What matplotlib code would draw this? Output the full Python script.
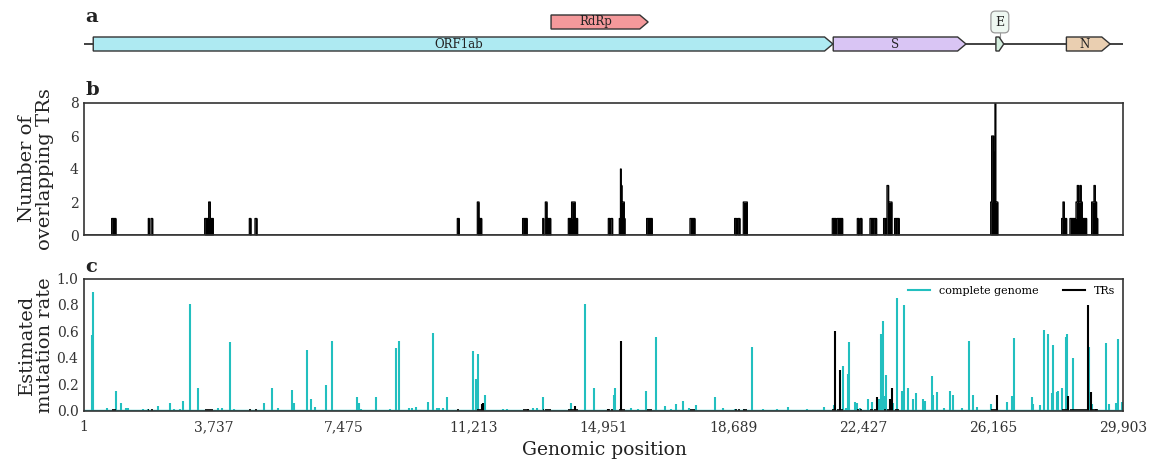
import numpy as np
import matplotlib.pyplot as plt
from matplotlib.patches import Polygon
from matplotlib.lines import Line2D

plt.rcParams['font.family'] = 'DejaVu Serif'

GENOME_LEN = 29903
DARK = '#333333'
CYAN = '#22bfbf'

# genes for panel a
gene_names = ['ORF1ab', 'RdRp', 'S', 'E', 'N']
gene_starts = [266, 13442, 21563, 26245, 28274]
gene_ends = [21555, 16236, 25384, 26472, 29533]
gene_colors = ['#aeeaf2', '#f4999b', '#d9c5f4', '#d5efdf', '#eacfb1']
gene_track = [0, 1, 0, 0, 0]

# panel b: number of overlapping TRs (piecewise constant)
tr_start = [796, 1851, 1928, 3473, 3588, 3636, 4758, 4921, 10744, 11320, 11369,
            12623, 13202, 13277, 13326, 13939, 14033, 14137, 15090, 15166,
            15407, 15440, 15460, 15484, 15550, 16193, 17440, 18725, 18811, 18975,
            21536, 21671, 22256, 22342, 22620, 22726, 23013, 23110, 23157, 23329,
            23395, 26095, 26122, 26180, 26218, 26240, 28137, 28175, 28213, 28376,
            28550, 28587, 28624, 28664, 28701, 28731, 29000, 29067, 29106, 29143]
tr_end = [920, 1880, 1977, 3588, 3636, 3722, 4806, 4979, 10801, 11369, 11446,
          12756, 13231, 13326, 13432, 14033, 14137, 14206, 15137, 15214,
          15440, 15460, 15484, 15550, 15571, 16355, 17584, 18782, 18879, 19090,
          21643, 21834, 22305, 22388, 22716, 22812, 23079, 23157, 23253, 23387,
          23463, 26122, 26180, 26218, 26240, 26300, 28175, 28213, 28281, 28550,
          28587, 28624, 28664, 28701, 28731, 28856, 29067, 29106, 29143, 29175]
tr_count = [1, 1, 1, 1, 2, 1, 1, 1, 1, 2, 1,
            1, 1, 2, 1, 1, 2, 1, 1, 1,
            1, 4, 3, 2, 1, 1, 1, 1, 1, 2,
            1, 1, 1, 1, 1, 1, 1, 3, 2, 1,
            1, 2, 6, 5, 8, 2, 1, 2, 1, 1,
            2, 3, 2, 3, 2, 1, 2, 3, 2, 1]

# panel c: estimated mutation rate, complete genome
gen_pos = [221, 250, 671, 921, 1065, 1209, 1276, 1689, 1851, 2121, 2475, 2590, 2763,
           2840, 3051, 3272, 3866, 3962, 4202, 4317, 5190, 5402, 5594, 5996, 6044,
           6408, 6524, 6648, 6965, 7128, 7847, 7924, 7980, 8395, 8807, 8979, 9056,
           9353, 9431, 9555, 9890, 10034, 10149, 10226, 10341, 10457, 11205, 11282,
           11339, 11541, 12068, 12164, 12909, 13024, 13200, 14016, 14419, 14678,
           15253, 15282, 15733, 15953, 16183, 16471, 16731, 16895, 17046, 17239,
           17421, 17623, 18170, 18400, 18736, 19004, 19234, 19533, 19936, 20270,
           20800, 21297, 21594, 21853, 21940, 21988, 22025, 22198, 22236, 22320,
           22572, 22668, 22889, 22927, 22985, 23052, 23081, 23291, 23387, 23530,
           23607, 23722, 23848, 23944, 24136, 24203, 24414, 24443, 24539, 24750,
           24923, 25000, 25260, 25479, 25594, 25700, 26102, 26554, 26698, 26765,
           27274, 27300, 27505, 27637, 27753, 27850, 27879, 27994, 28030, 28138,
           28253, 28290, 28472, 28915, 29020, 29413, 29509, 29700, 29749, 29864]
gen_rate = [0.57, 0.90, 0.02, 0.15, 0.06, 0.02, 0.02, 0.015, 0.015, 0.035, 0.06, 0.015, 0.01,
            0.07, 0.81, 0.17, 0.02, 0.02, 0.52, 0.01, 0.06, 0.17, 0.02, 0.155, 0.055,
            0.46, 0.09, 0.03, 0.19, 0.53, 0.10, 0.06, 0.01, 0.10, 0.015, 0.47, 0.53,
            0.02, 0.02, 0.025, 0.065, 0.59, 0.02, 0.02, 0.02, 0.10, 0.45, 0.24,
            0.43, 0.12, 0.015, 0.015, 0.02, 0.02, 0.10, 0.06, 0.81, 0.17,
            0.12, 0.17, 0.02, 0.01, 0.15, 0.56, 0.035, 0.01, 0.05, 0.07,
            0.02, 0.045, 0.10, 0.02, 0.015, 0.015, 0.48, 0.01, 0.012, 0.03,
            0.01, 0.025, 0.04, 0.34, 0.02, 0.28, 0.52, 0.065, 0.055, 0.02,
            0.09, 0.065, 0.09, 0.58, 0.68, 0.11, 0.27, 0.06, 0.85, 0.15,
            0.80, 0.17, 0.09, 0.13, 0.09, 0.075, 0.26, 0.12, 0.14, 0.02,
            0.145, 0.12, 0.02, 0.53, 0.12, 0.03, 0.05, 0.065, 0.11, 0.55,
            0.10, 0.05, 0.04, 0.61, 0.58, 0.13, 0.50, 0.14, 0.15, 0.17,
            0.56, 0.58, 0.40, 0.48, 0.05, 0.51, 0.05, 0.055, 0.54, 0.065]

# panel c: estimated mutation rate inside TRs
trm_pos = [11445, 11470, 12787, 14131, 15090, 15464, 21623, 21757, 22812, 23196,
           23263, 26266, 28319, 28886, 28981, 29120]
trm_rate = [0.05, 0.06, 0.01, 0.035, 0.015, 0.53, 0.60, 0.31, 0.10, 0.09,
            0.17, 0.12, 0.11, 0.80, 0.14, 0.015]

xtick_vals = [1, 3737, 7475, 11213, 14951, 18689, 22427, 26165, 29903]

W, H = 1158, 462
fig = plt.figure(figsize=(W / 100, H / 100), dpi=100)

def px_axes(left, top, right, bottom):
    return fig.add_axes([left / W, 1 - bottom / H, (right - left) / W, (bottom - top) / H])

ax_a = px_axes(84, 5, 1123, 62)
ax_b = px_axes(84, 103, 1123, 235)
ax_c = px_axes(84, 278.5, 1123, 410.5)

# ---- panel a: gene map
ax_a.set_xlim(0, GENOME_LEN)
ax_a.set_ylim(62, 5)
ax_a.axis('off')
track_y = [44, 22]
half_h = 7
ax_a.plot([0, GENOME_LEN], [44, 44], color=DARK, lw=1.3, zorder=1)
for name, s, e, col, tr in zip(gene_names, gene_starts, gene_ends, gene_colors, gene_track):
    y = track_y[tr]
    head = min(240, 0.6 * (e - s))
    verts = [(s, y - half_h), (e - head, y - half_h), (e, y),
             (e - head, y + half_h), (s, y + half_h)]
    ax_a.add_patch(Polygon(verts, closed=True, facecolor=col, edgecolor=DARK,
                           lw=1.0, zorder=2))
    if name == 'E':
        mid = (s + e) / 2
        ax_a.plot([mid, mid], [y - half_h, 31], color='#999999', lw=0.8, zorder=1)
        ax_a.text(mid, 22, name, ha='center', va='center', fontsize=9, color='#222222',
                  bbox=dict(boxstyle='round,pad=0.35', fc='#eef7f1', ec='#999999', lw=0.9))
    else:
        ax_a.text((s + e - head) / 2, y, name, ha='center', va='center',
                  fontsize=8.5, color='#222222', zorder=3)

# ---- panel b: overlapping TRs
cov = np.zeros(GENOME_LEN + 1)
for s, e, c in zip(tr_start, tr_end, tr_count):
    cov[s:e] = c
xs = np.arange(GENOME_LEN + 1)
ax_b.fill_between(xs, cov, step='post', color='black', lw=0)
ax_b.plot(xs, cov, drawstyle='steps-post', color='black', lw=0.9)
ax_b.set_xlim(0, GENOME_LEN)
ax_b.set_ylim(0, 8)
ax_b.set_yticks([0, 2, 4, 6, 8])
ax_b.set_xticks([])

# ---- panel c: mutation rate
ax_c.plot([0, GENOME_LEN], [0.004, 0.004], color=CYAN, lw=1.0)
ax_c.vlines(gen_pos, 0, gen_rate, color=CYAN, lw=1.5)
ax_c.hlines(np.full(len(tr_start), 0.003), tr_start, tr_end, color='black', lw=1.2)
ax_c.vlines(trm_pos, 0, trm_rate, color='black', lw=1.5)
ax_c.set_xlim(0, GENOME_LEN)
ax_c.set_ylim(0, 1.0)
ax_c.set_yticks([0.0, 0.2, 0.4, 0.6, 0.8, 1.0])
ax_c.set_xticks(xtick_vals)
ax_c.set_xticklabels([f'{v:,}' for v in xtick_vals])
handles = [Line2D([], [], color=CYAN, lw=1.5), Line2D([], [], color='black', lw=1.5)]
ax_c.legend(handles, ['complete genome', 'TRs'], loc='upper right', ncol=2,
            frameon=False, fontsize=8, columnspacing=2.2, handlelength=2.0,
            borderaxespad=0.3)

for ax in (ax_b, ax_c):
    for sp in ax.spines.values():
        sp.set_color(DARK)
        sp.set_linewidth(1.2)
    ax.tick_params(length=0, labelsize=10, labelcolor=DARK, pad=4)
ax_c.tick_params(axis='x', pad=7)

txt = '#222222'
fig.text(36 / W, 1 - 169 / H, 'Number of\noverlapping TRs', rotation=90, ha='center',
         va='center', fontsize=14, color=txt, linespacing=1.0)
fig.text(36 / W, 1 - 345 / H, 'Estimated\nmutation rate', rotation=90, ha='center',
         va='center', fontsize=14, color=txt, linespacing=1.0)
fig.text(604 / W, 1 - 450 / H, 'Genomic position', ha='center', va='center',
         fontsize=13.5, color=txt)
for lab, yy in (('a', 17), ('b', 90), ('c', 267)):
    fig.text(85 / W, 1 - yy / H, lab, ha='left', va='center', fontsize=14,
             fontweight='bold', color=txt)

fig.savefig('out.png', dpi=100)
